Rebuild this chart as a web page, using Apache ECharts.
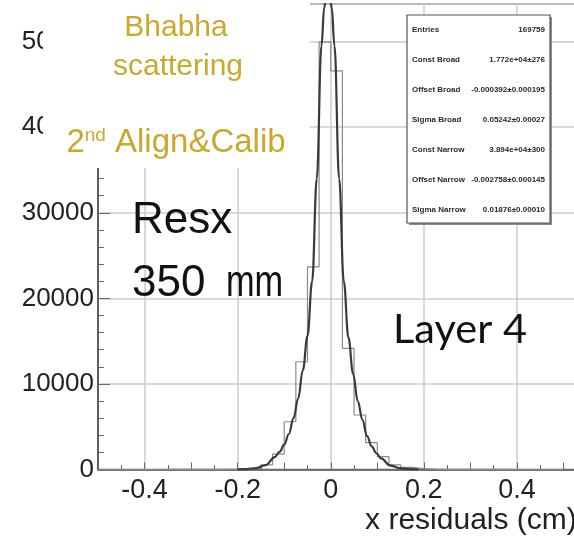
<!DOCTYPE html>
<html>
<head>
<meta charset="utf-8">
<script src="https://cdn.jsdelivr.net/npm/echarts@6/dist/echarts.min.js"></script>
<style>
  html, body { margin: 0; padding: 0; background: #ffffff; }
  #chart { width: 574px; height: 539px; }
</style>
</head>
<body>
<div id="chart"></div>
<script>
// Residual histogram: bin edges (cm) and entries per bin
const binEdges = [
  -0.5, -0.475, -0.45, -0.425, -0.4, -0.375, -0.35, -0.325, -0.3, -0.275,
  -0.25, -0.225, -0.2, -0.175, -0.15, -0.125, -0.1, -0.075, -0.05, -0.025,
  0, 0.025, 0.05, 0.075, 0.1, 0.125, 0.15, 0.175, 0.2, 0.225,
  0.25, 0.275, 0.3, 0.325, 0.35, 0.375, 0.4, 0.425, 0.45, 0.475, 0.5
];
const binCounts = [
  0, 0, 0, 0, 2, 3, 5, 8, 10, 14,
  20, 30, 50, 140, 530, 1800, 5580, 12590, 23690, 49980,
  46590, 14160, 6370, 3150, 1500, 530, 250, 100, 40, 25,
  15, 10, 8, 5, 3, 2, 0, 0, 0, 0
];

// Double-Gaussian fit curve, sampled along x (cm)
const fitX = [
  -0.2, -0.18, -0.16, -0.14, -0.12, -0.11, -0.1, -0.09, -0.08, -0.07,
  -0.06, -0.05, -0.04, -0.03, -0.02, -0.014, -0.006, 0.002, 0.008, 0.018,
  0.028, 0.038, 0.048, 0.058, 0.068, 0.078, 0.088, 0.098, 0.108, 0.128,
  0.148, 0.168, 0.188
];
const fitY = [
  15, 60, 170, 520, 1450, 2050, 2900, 4150, 6000, 8300,
  11600, 15600, 22000, 34000, 49500, 54000, 58500, 54000, 49500, 34000,
  22000, 15400, 11200, 8000, 5800, 3900, 2700, 1900, 1300, 460,
  160, 55, 15
];

// Axis tick labels
const xTickLabels = [-0.4, -0.2, 0, 0.2, 0.4];
const yTickLabels = [0, 10000, 20000, 30000, 40000, 50000];

// Fit statistics panel
const statNames = ['Entries', 'Const Broad', 'Offset Broad', 'Sigma Broad', 'Const Narrow', 'Offset Narrow', 'Sigma Narrow'];
const statValues = ['169759', '1.772e+04\u00b1276', '-0.000392\u00b10.000195', '0.05242\u00b10.00027', '3.894e+04\u00b1300', '-0.002758\u00b10.000145', '0.01876\u00b10.00010'];

const histData = binCounts.map((c, i) => [binEdges[i], c]);
histData.push([binEdges[binEdges.length - 1], binCounts[binCounts.length - 1]]);
const fitData = fitX.map((x, i) => [x, fitY[i]]);

const SANS = '"Liberation Sans", Arial, sans-serif';
const GOLD = '#c9a82c';
const INK = '#111111';

const statGraphics = [];
statNames.forEach((name, i) => {
  statGraphics.push({
    type: 'text', z: 102, x: 412, y: 30 + 30 * i,
    style: { text: name, fontSize: 8, fontWeight: 'bold', fontFamily: SANS, fill: '#2a2a2a', align: 'left', verticalAlign: 'middle' }
  });
  statGraphics.push({
    type: 'text', z: 102, x: 545, y: 30 + 30 * i,
    style: { text: statValues[i], fontSize: 8, fontWeight: 'bold', fontFamily: SANS, fill: '#2a2a2a', align: 'right', verticalAlign: 'middle' }
  });
});

const chart = echarts.init(document.getElementById('chart'), null, { renderer: 'canvas' });
chart.setOption({
  animation: false,
  backgroundColor: '#ffffff',
  grid: {
    show: true, left: 98, top: 4, right: -12.8, bottom: 69.5,
    borderColor: '#555555', borderWidth: 1.5, backgroundColor: 'transparent',
    containLabel: false, outerBoundsMode: 'none'
  },
  xAxis: {
    type: 'value', min: -0.5, max: 0.55, interval: 0.1,
    axisLine: { show: true, onZero: false, lineStyle: { color: '#555555', width: 1.5 } },
    axisTick: { show: true, inside: true, length: 7, lineStyle: { color: '#666666', width: 1 } },
    minorTick: { show: true, splitNumber: 2, length: 4.5, lineStyle: { color: '#666666', width: 1 } },
    splitLine: { show: true, lineStyle: { color: ['transparent', '#cccccc'], width: 1.5 } },
    axisLabel: {
      margin: 8, fontSize: 27, color: '#222222', fontFamily: SANS,
      formatter: v => {
        const t = xTickLabels.find(l => Math.abs(l - v) < 1e-6);
        return t === undefined ? '' : String(t);
      }
    },
    name: 'x residuals (cm)', nameLocation: 'end', nameGap: -10,
    nameTextStyle: { align: 'right', verticalAlign: 'top', padding: [36, 0, 0, 0], fontSize: 30, color: '#222222', fontFamily: SANS }
  },
  yAxis: {
    type: 'value', min: 0, max: 54400, interval: 10000,
    axisLine: { show: true, onZero: false, lineStyle: { color: '#555555', width: 1.5 } },
    axisTick: { show: true, inside: true, length: 12, lineStyle: { color: '#666666', width: 1 } },
    minorTick: { show: true, splitNumber: 5, length: 6, lineStyle: { color: '#666666', width: 1 } },
    splitLine: { show: true, lineStyle: { color: '#cccccc', width: 1.5 } },
    axisLabel: {
      margin: 4, fontSize: 26, color: '#222222', fontFamily: SANS, padding: [10, 0, 0, 0],
      formatter: v => (yTickLabels.indexOf(v) >= 0 ? String(v) : '')
    }
  },
  series: [
    {
      name: 'residuals', type: 'line', data: histData, step: 'end', symbol: 'none',
      lineStyle: { color: '#8a8a8a', width: 1.2 }, z: 3, silent: true
    },
    {
      name: 'fit', type: 'line', data: fitData, smooth: 0.4, smoothMonotone: 'x', symbol: 'none',
      lineStyle: { color: '#3a3a3a', width: 2.2 }, z: 4, silent: true
    }
  ],
  graphic: [
    { type: 'rect', z: 100, shape: { x: 43, y: 0, width: 267, height: 168 }, style: { fill: '#ffffff' } },
    { type: 'text', z: 101, x: 176, y: 28, style: { text: 'Bhabha', fontSize: 30, fontFamily: SANS, fill: GOLD, align: 'center', verticalAlign: 'middle' } },
    { type: 'text', z: 101, x: 178, y: 67, style: { text: 'scattering', fontSize: 30, fontFamily: SANS, fill: GOLD, align: 'center', verticalAlign: 'middle' } },
    {
      type: 'text', z: 101, x: 176, y: 143,
      style: {
        text: '{b|2}{s|nd}{b| Align&Calib}', align: 'center', verticalAlign: 'middle',
        rich: {
          b: { fontSize: 33, fontFamily: SANS, fill: GOLD },
          s: { fontSize: 19, fontFamily: SANS, fill: GOLD, verticalAlign: 'top' }
        }
      }
    },
    { type: 'text', z: 101, x: 132, y: 221, style: { text: 'Resx', fontSize: 44, fontFamily: SANS, fill: INK, align: 'left', verticalAlign: 'middle' } },
    { type: 'text', z: 101, x: 132, y: 284, style: { text: '350', fontSize: 44, fontFamily: SANS, fill: INK, align: 'left', verticalAlign: 'middle' } },
    { type: 'text', z: 101, x: 226, y: 284, scaleX: 0.78, style: { text: 'mm', fontSize: 44, fontFamily: SANS, fill: INK, align: 'left', verticalAlign: 'middle' } },
    { type: 'text', z: 101, x: 393, y: 330, style: { text: 'Layer 4', fontSize: 41.5, fontFamily: 'Lato, "Open Sans", sans-serif', fill: INK, align: 'left', verticalAlign: 'middle' } },
    { type: 'rect', z: 101, shape: { x: 409, y: 17, width: 143, height: 208 }, style: { fill: '#8a8a8a' } },
    { type: 'rect', z: 101, shape: { x: 407, y: 15, width: 143, height: 208 }, style: { fill: '#ffffff', stroke: '#555555', lineWidth: 1.2 } }
  ].concat(statGraphics)
});
</script>
</body>
</html>
